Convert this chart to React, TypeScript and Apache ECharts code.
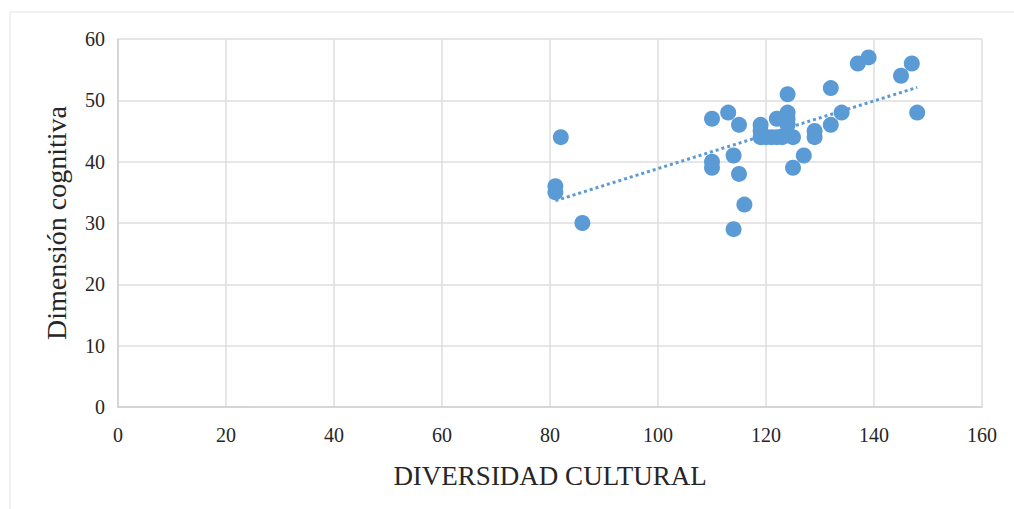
import React, { useEffect, useRef } from "react";
import * as echarts from "echarts";

// Diversidad cultural (x) vs. dimensión cognitiva (y)
const diversidad = [
  81, 81, 82, 86, 110, 110, 110, 113, 114, 114, 115, 115, 116, 119, 119, 119, 120, 121,
  122, 122, 123, 124, 124, 124, 124, 125, 125, 127, 129, 129, 132, 132, 134, 137, 139,
  145, 147, 148,
];
const cognitiva = [
  36, 35, 44, 30, 47, 40, 39, 48, 41, 29, 46, 38, 33, 46, 45, 44, 44, 44,
  47, 44, 44, 51, 48, 47, 46, 44, 39, 41, 45, 44, 52, 46, 48, 56, 57,
  54, 56, 48,
];

const xTicks = { min: 0, max: 160, interval: 20 };
const yTicks = { min: 0, max: 60, interval: 10 };

const xTitle = "DIVERSIDAD CULTURAL";
const yTitle = "Dimensión cognitiva";

const BLUE = "#5b9bd5";
const FONT = "Liberation Serif";
const TEXT = "#262626";

// Least-squares linear trend over the observed points
function linearTrend(xs: number[], ys: number[]) {
  const n = xs.length;
  const mx = xs.reduce((a, b) => a + b, 0) / n;
  const my = ys.reduce((a, b) => a + b, 0) / n;
  let sxy = 0;
  let sxx = 0;
  for (let i = 0; i < n; i++) {
    sxy += (xs[i] - mx) * (ys[i] - my);
    sxx += (xs[i] - mx) * (xs[i] - mx);
  }
  const slope = sxy / sxx;
  const intercept = my - slope * mx;
  const x0 = Math.min(...xs);
  const x1 = Math.max(...xs);
  return [
    [x0, intercept + slope * x0],
    [x1, intercept + slope * x1],
  ];
}

export default function App() {
  const ref = useRef<HTMLDivElement>(null);

  useEffect(() => {
    if (!ref.current) return;
    const chart = echarts.init(ref.current, undefined, { renderer: "svg" });
    const points = diversidad.map((x, i) => [x, cognitiva[i]]);
    const trend = linearTrend(diversidad, cognitiva);

    chart.setOption({
      animation: false,
      backgroundColor: "#ffffff",
      textStyle: { fontFamily: FONT },
      graphic: [
        {
          type: "rect",
          shape: { x: 10, y: 12, width: 1030, height: 530 },
          style: { fill: "none", stroke: "#e3e3e3", lineWidth: 1 },
          silent: true,
          z: -1,
        },
      ],
      grid: { left: 118, right: 32, top: 39, bottom: 102 },
      xAxis: {
        type: "value",
        min: xTicks.min,
        max: xTicks.max,
        interval: xTicks.interval,
        name: xTitle,
        nameLocation: "middle",
        nameGap: 55,
        nameTextStyle: { fontFamily: FONT, fontSize: 27, color: TEXT },
        axisLine: { show: true, lineStyle: { color: "#d0d0d0", width: 1.5 } },
        axisTick: { show: false },
        axisLabel: { fontFamily: FONT, fontSize: 20, color: TEXT, margin: 18 },
        splitLine: { show: true, lineStyle: { color: "#dedede", width: 1.5 } },
      },
      yAxis: {
        type: "value",
        min: yTicks.min,
        max: yTicks.max,
        interval: yTicks.interval,
        name: yTitle,
        nameLocation: "middle",
        nameGap: 48,
        nameTextStyle: { fontFamily: FONT, fontSize: 28, color: TEXT },
        axisLine: { show: true, lineStyle: { color: "#d0d0d0", width: 1.5 } },
        axisTick: { show: false },
        axisLabel: { fontFamily: FONT, fontSize: 20, color: TEXT, margin: 13 },
        splitLine: { show: true, lineStyle: { color: "#dedede", width: 1.5 } },
      },
      series: [
        {
          type: "line",
          data: trend,
          showSymbol: false,
          symbol: "none",
          lineStyle: { color: BLUE, width: 3, type: [3, 3] },
          z: 3,
        },
        {
          type: "scatter",
          data: points,
          symbol: "circle",
          symbolSize: 16,
          itemStyle: { color: BLUE, opacity: 1 },
          z: 2,
        },
      ],
    });

    return () => chart.dispose();
  }, []);

  return (
    <div
      ref={ref}
      style={{ position: "fixed", left: 0, top: 0, width: 1014, height: 509 }}
    />
  );
}
